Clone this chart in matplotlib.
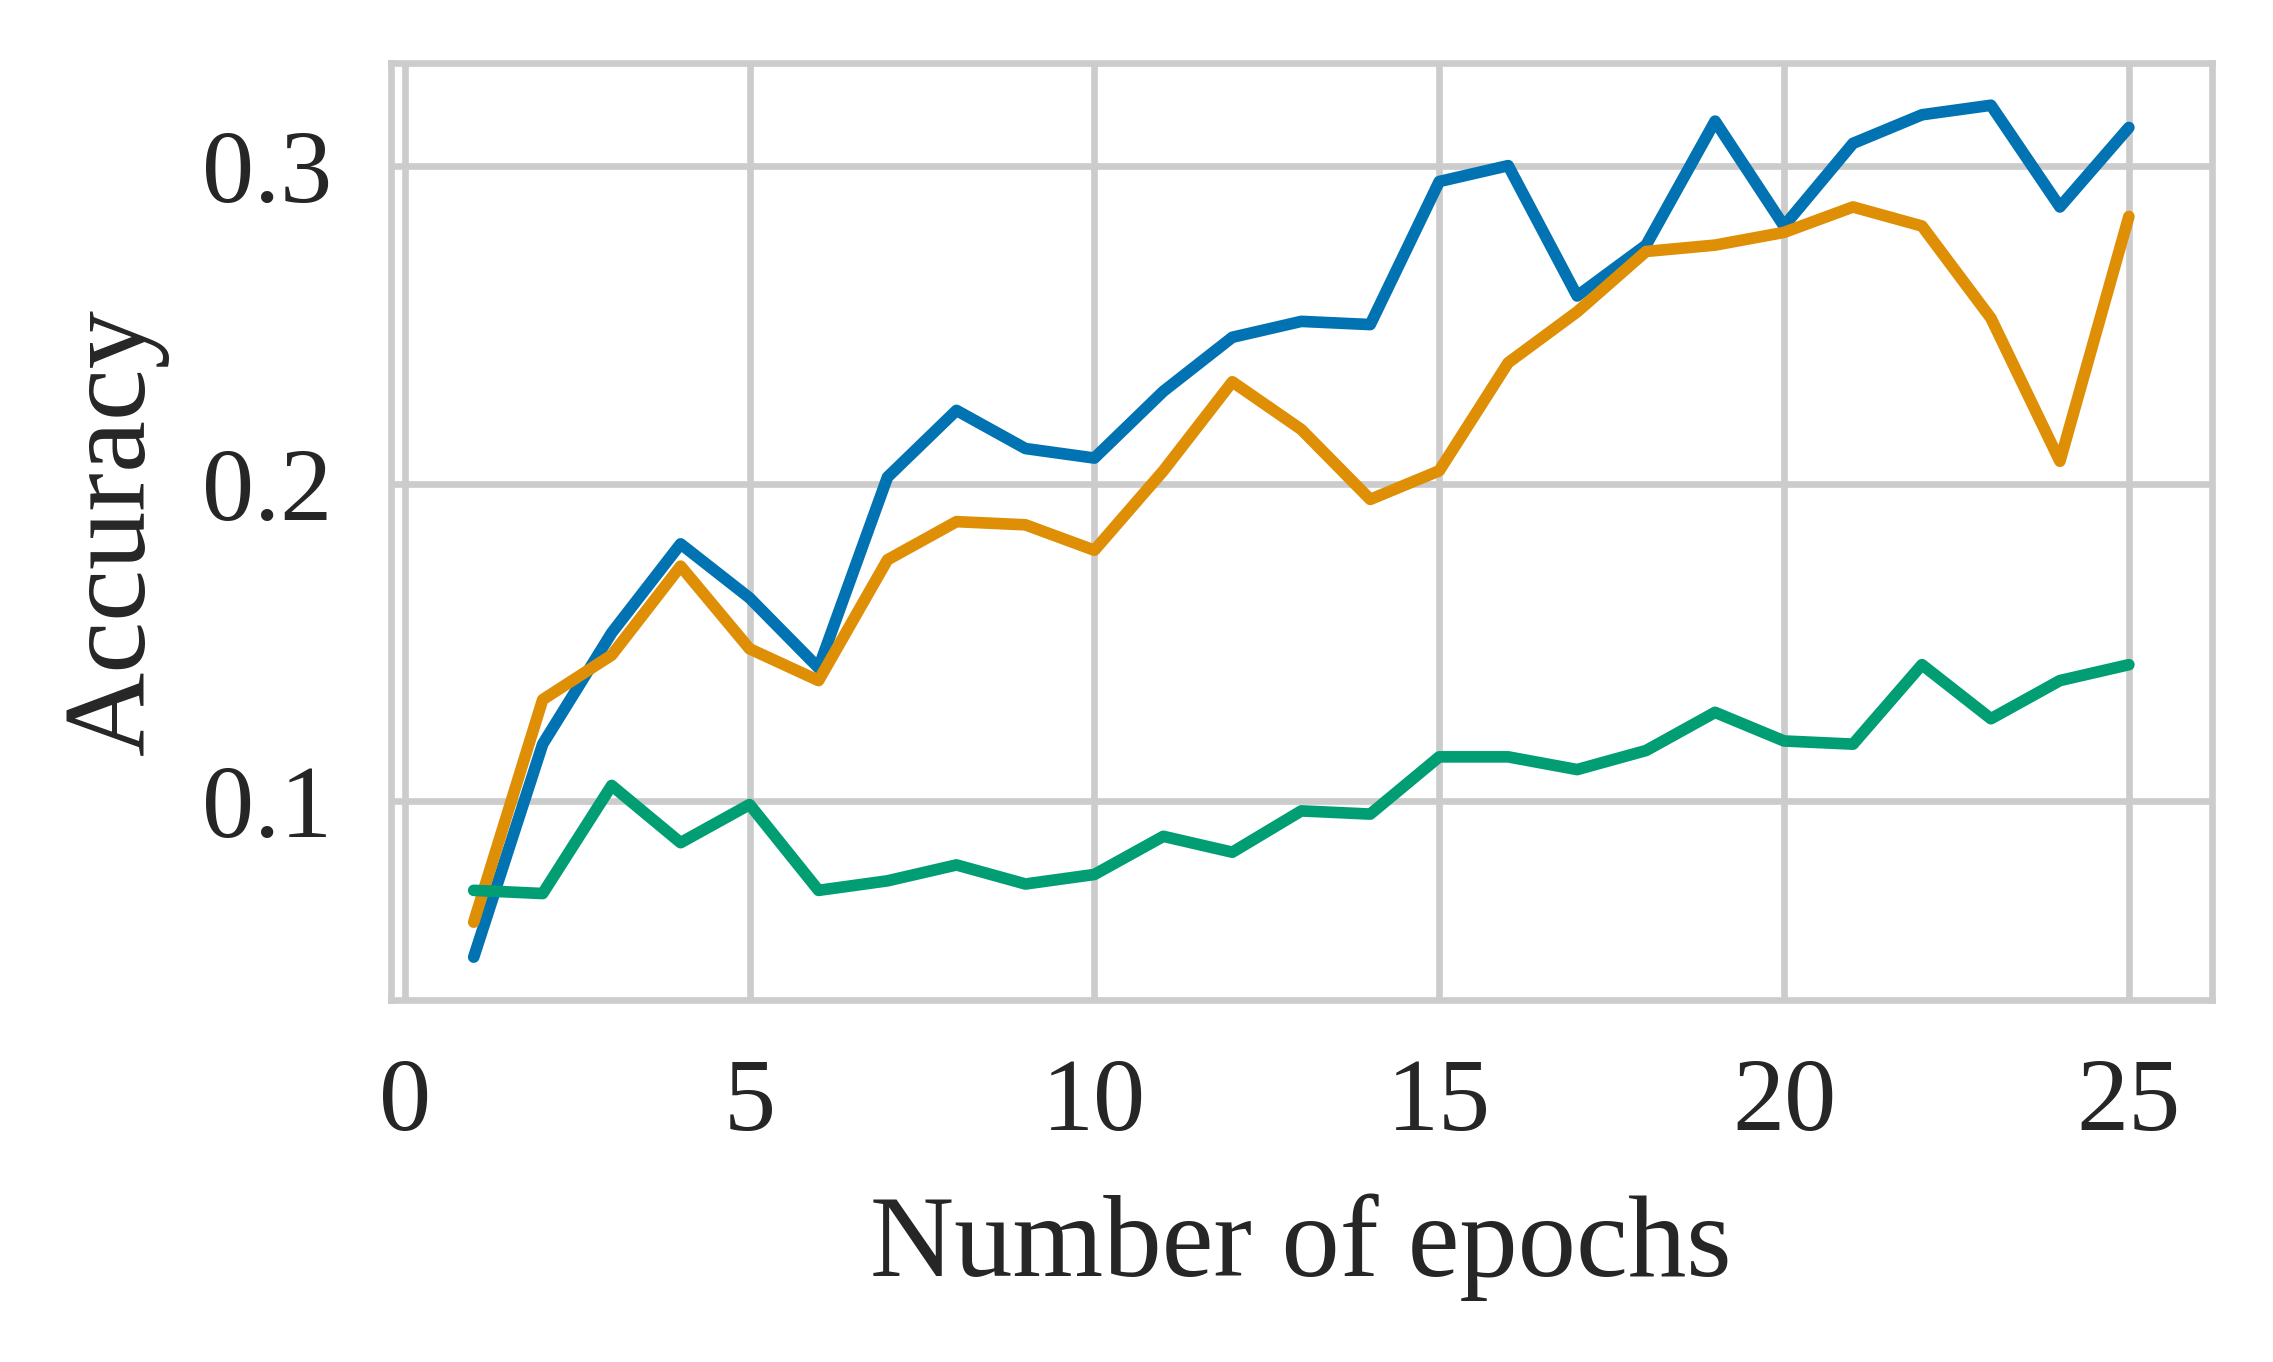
import matplotlib.pyplot as plt
import numpy as np

# accuracy per epoch for three runs
epochs = np.arange(1, 26)
acc_blue = [0.051, 0.118, 0.153, 0.181, 0.164, 0.142, 0.202, 0.223, 0.211, 0.208,
            0.229, 0.246, 0.251, 0.250, 0.295, 0.300, 0.259, 0.275, 0.314, 0.281,
            0.307, 0.316, 0.319, 0.287, 0.312]
acc_orange = [0.062, 0.132, 0.146, 0.174, 0.148, 0.138, 0.176, 0.188, 0.187, 0.179,
              0.204, 0.232, 0.217, 0.195, 0.204, 0.238, 0.254, 0.273, 0.275, 0.279,
              0.287, 0.281, 0.252, 0.207, 0.284]
acc_green = [0.072, 0.071, 0.105, 0.087, 0.099, 0.072, 0.075, 0.080, 0.074, 0.077,
             0.089, 0.084, 0.097, 0.096, 0.114, 0.114, 0.110, 0.116, 0.128, 0.119,
             0.118, 0.143, 0.126, 0.138, 0.143]

plt.rcParams['font.family'] = ['Liberation Serif', 'DejaVu Serif']

fig = plt.figure(figsize=(2273 / 300, 1362 / 300), dpi=300)
ax = fig.add_axes([0.172, 0.266, 0.801, 0.688])

for acc, c in [(acc_blue, '#0173B2'), (acc_orange, '#DE8F05'), (acc_green, '#029E73')]:
    ax.plot(epochs, acc, color=c, lw=2.8, solid_capstyle='round')

ax.set_xticks([0, 5, 10, 15, 20, 25])
ax.set_yticks([0.1, 0.2, 0.3])
ax.grid(True, color='#cccccc', lw=1.6)
ax.set_axisbelow(True)
for s in ax.spines.values():
    s.set_color('#cccccc')
    s.set_linewidth(1.6)
ax.tick_params(length=0, labelsize=25, colors='#262626', pad=14)

ax.set_xlabel('Number of epochs', fontsize=28, color='#262626', labelpad=10)
ax.set_ylabel('Accuracy', fontsize=28, color='#262626', labelpad=8)

plt.savefig('out.png', dpi=300)
